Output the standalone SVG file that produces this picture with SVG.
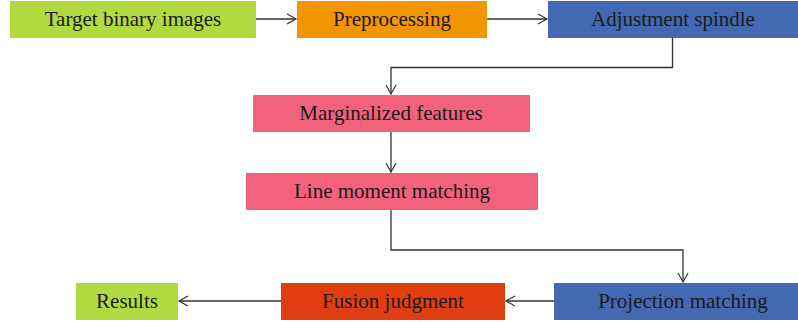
<svg xmlns="http://www.w3.org/2000/svg" width="798" height="324" viewBox="0 0 798 324">
<style>
text{font-family:"Liberation Serif","DejaVu Serif",serif;font-size:21px;fill:#1a1a1a;text-anchor:middle}
.c{fill:none;stroke:#333;stroke-width:1.3}
</style>
<defs>
<marker id="a" markerWidth="12" markerHeight="12" refX="10" refY="6" orient="auto" markerUnits="userSpaceOnUse">
<path d="M1,1 L10,6 L1,11" fill="none" stroke="#333" stroke-width="1.2"/>
</marker>
</defs>
<rect width="798" height="324" fill="#fff"/>
<g id="n1"><rect x="10" y="1" width="246" height="37" fill="#b2da40"/><text x="133" y="25.5">Target binary images</text></g>
<g id="n2"><rect x="297" y="1" width="190" height="37" fill="#f39500"/><text x="392" y="25.5">Preprocessing</text></g>
<g id="n3"><rect x="548" y="1" width="250" height="37" fill="#4369b3"/><text x="673" y="25.5">Adjustment spindle</text></g>
<g id="n4"><rect x="253" y="95" width="277" height="37" fill="#f2627a"/><text x="391" y="119.5">Marginalized features</text></g>
<g id="n5"><rect x="246" y="173" width="292" height="37" fill="#f2627a"/><text x="392" y="197.5">Line moment matching</text></g>
<g id="n6"><rect x="554" y="283" width="244" height="37" fill="#4369b3"/><text x="683" y="307.5">Projection matching</text></g>
<g id="n7"><rect x="281" y="283" width="224" height="37" fill="#e03e10"/><text x="393" y="307.5">Fusion judgment</text></g>
<g id="n8"><rect x="76" y="283" width="102" height="37" fill="#b2da40"/><text x="127" y="307.5">Results</text></g>
<g id="connectors">
<path class="c" d="M256,19 H296" marker-end="url(#a)"/>
<path class="c" d="M487,19 H547" marker-end="url(#a)"/>
<path class="c" d="M672.5,38 V67.5 H391 V94" marker-end="url(#a)"/>
<path class="c" d="M391,132 V172" marker-end="url(#a)"/>
<path class="c" d="M391,210 V250 H683 V282" marker-end="url(#a)"/>
<path class="c" d="M554,301 H506" marker-end="url(#a)"/>
<path class="c" d="M281,301 H179" marker-end="url(#a)"/>
</g>
</svg>
